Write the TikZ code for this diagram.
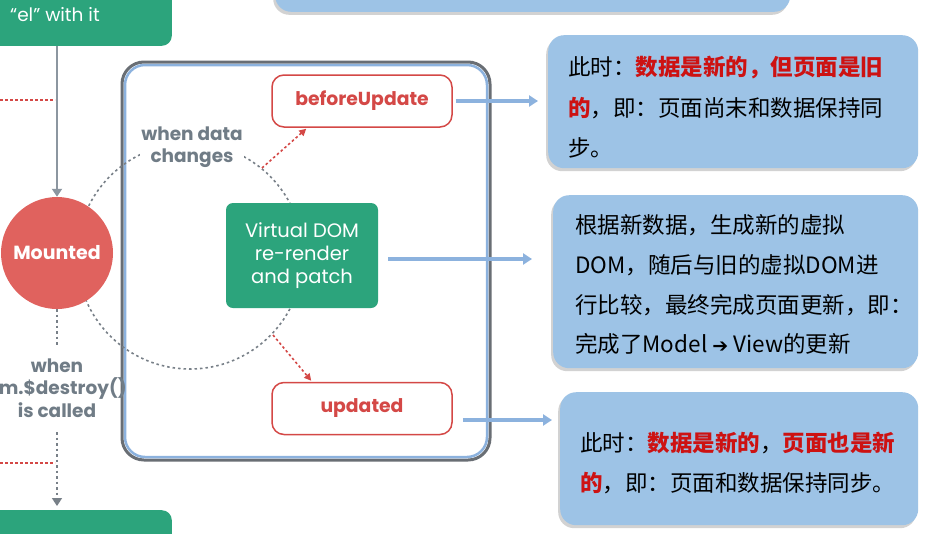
\documentclass[tikz,border=0pt]{standalone}
\usepackage{fontspec}
\setmainfont{Poppins}
\newfontfamily\cjk{Noto Sans CJK SC}
\newfontfamily\djv{DejaVu Sans}
\usetikzlibrary{arrows.meta,shadows,calc}
\definecolor{vgreen}{RGB}{44,164,124}
\definecolor{vred}{RGB}{224,98,94}
\definecolor{vredtxt}{RGB}{212,72,70}
\definecolor{vgray}{RGB}{112,124,134}
\definecolor{lgray}{RGB}{120,128,136}
\definecolor{agray}{RGB}{140,150,160}
\definecolor{cblue}{RGB}{157,195,230}
\definecolor{ablue}{RGB}{140,178,222}
\definecolor{hired}{RGB}{205,18,18}
\definecolor{frgray}{RGB}{105,110,116}
\begin{document}
\begin{tikzpicture}[x=1pt,y=-1pt,
  gbox/.style={fill=vgreen, rounded corners=10pt, draw=none, inner sep=0pt},
  callout/.style={fill=cblue, rounded corners=16pt, inner sep=0pt,
    drop shadow={opacity=0.35,shadow xshift=-2pt,shadow yshift=-3pt}},
  hookbox/.style={draw=vredtxt, line width=1.5pt, fill=white, rounded corners=12pt,
    minimum width=180pt, minimum height=52pt, inner sep=0pt, text=vredtxt,
    font=\fontsize{18.8}{20}\selectfont\bfseries},
  graylbl/.style={text=vgray, font=\fontsize{18.5}{22.5}\selectfont\bfseries, align=center, inner sep=1pt},
  cjkline/.style={anchor=west, inner sep=0pt, font=\cjk\fontsize{22.5}{25}\selectfont},
  reddot/.style={draw=vredtxt, line width=1.6pt, dash pattern=on 2.5pt off 2.5pt},
  graydot/.style={draw=lgray, line width=1.6pt, dash pattern=on 2.5pt off 3pt},
  bluearrow/.style={draw=ablue, line width=4pt, -{Triangle[width=11pt,length=9pt]}},
]
\useasboundingbox (0,0) rectangle (925,533);
\fill[white] (0,0) rectangle (925,533);

% top blue box
\node[callout, minimum width=515pt, minimum height=40pt, anchor=south west] (topbox) at (275,12) {};

% green boxes on the left
\node[gbox, minimum width=234pt, minimum height=90pt, anchor=south east] (gtop) at (172,46) {};
\node[text=white, font=\fontsize{18.5}{20}\selectfont, inner sep=0pt] (eltxt) at (55,15) {“el” with it};
\node[gbox, minimum width=234pt, minimum height=60pt, anchor=north east] (gbot) at (172,510) {};

% container
\draw[frgray, line width=3pt, rounded corners=22pt, fill=white] (122,62) rectangle (490,460);
\draw[ablue, line width=2.5pt, rounded corners=20pt] (125,65) rectangle (487,457);

% dashed circle
\draw[graydot] (190,256) circle[radius=113];

% Mounted
\node[circle, fill=vred, minimum size=112pt, inner sep=0pt, text=white,
      font=\fontsize{19}{20}\selectfont\bfseries] (mounted) at (57,253) {Mounted};

% red dotted horizontals
\coordinate (rl1) at (0,100);
\coordinate (rr1) at (55,100);
\draw[reddot] (rl1) -- (rr1);
\coordinate (rl2) at (0,463);
\coordinate (rr2) at (55,463);
\draw[reddot] (rl2) -- (rr2);

% gray arrow to Mounted
\draw[agray, line width=1.8pt, -{Triangle[width=10pt,length=8pt]}] (gtop.south -| mounted) -- (mounted.north);

% destroy label and dotted connectors
\node[graylbl] (destroy) at (57,388) {when\\vm.\$destroy()\\is called};
\coordinate (d1) at (57,345);
\draw[graydot] (mounted.south) -- (d1);
\coordinate (d2) at (57,432);
\draw[graydot, -{Triangle[width=10pt,length=8pt]}] (d2) -- ([yshift=4pt]gbot.north -| mounted);

% when data changes
\node[graylbl, fill=white] (wdc) at (192,147) {when data\\changes};

% Virtual DOM box
\node[gbox, rounded corners=7pt, minimum width=152pt, minimum height=105pt, text=white,
      font=\fontsize{19.5}{23}\selectfont, align=center] (vdom) at (302,255.5) {Virtual DOM\\re-render\\and patch};

% hook boxes
\node[hookbox] (bu) at (362,101) {beforeUpdate};
\node[hookbox] (up) at (362,408.5) {updated};

% red dotted arrows
\coordinate (a1) at (262,168);
\draw[reddot, -{Triangle[width=7pt,length=7pt]}] (a1) -- ($(bu.south west)+(35,1)$);
\coordinate (a2) at (273,335);
\draw[reddot, -{Triangle[width=7pt,length=7pt]}] (a2) -- ($(up.north west)+(40,-1)$);

% callouts
\node[callout, minimum width=370pt, minimum height=133pt, anchor=north west] (cb1) at (548,35) {};
\node[callout, minimum width=365pt, minimum height=173pt, anchor=north west] (cb2) at (553,195) {};
\node[callout, minimum width=358pt, minimum height=133pt, anchor=north west] (cb3) at (560,392) {};

% blue arrows
\draw[bluearrow, shorten <=3pt, shorten >=10pt] (bu.east) -- (bu.east -| cb1.west);
\coordinate (vs) at ($(vdom.east)+(10,3.5)$);
\draw[bluearrow, shorten >=21pt] (vs) -- (vs -| cb2.west);
\coordinate (us) at ($(up.east)+(10,11.5)$);
\draw[bluearrow, shorten >=8pt] (us) -- (us -| cb3.west);

% callout texts
\node[cjkline] (t11) at (568,68) {此时：\textcolor{hired}{\bfseries 数据是新的，但页面是旧}};
\node[cjkline] (t12) at (568,108) {\textcolor{hired}{\bfseries 的}，即：页面尚末和数据保持同};
\node[cjkline] (t13) at (568,148) {步。};

\node[cjkline] (t21) at (575,225) {根据新数据，生成新的虚拟};
\node[cjkline] (t22) at (575,265) {DOM，随后与旧的虚拟DOM进};
\node[cjkline] (t23) at (575,305) {行比较，最终完成页面更新，即：};
\node[cjkline] (t24) at (575,344) {完成了Model {\djv\fontsize{19}{20}\selectfont ➔} View的更新};

\node[cjkline] (t31) at (580,443) {此时：\textcolor{hired}{\bfseries 数据是新的}，\textcolor{hired}{\bfseries 页面也是新}};
\node[cjkline] (t32) at (580,483) {\textcolor{hired}{\bfseries 的}，即：页面和数据保持同步。};
\end{tikzpicture}
\end{document}
